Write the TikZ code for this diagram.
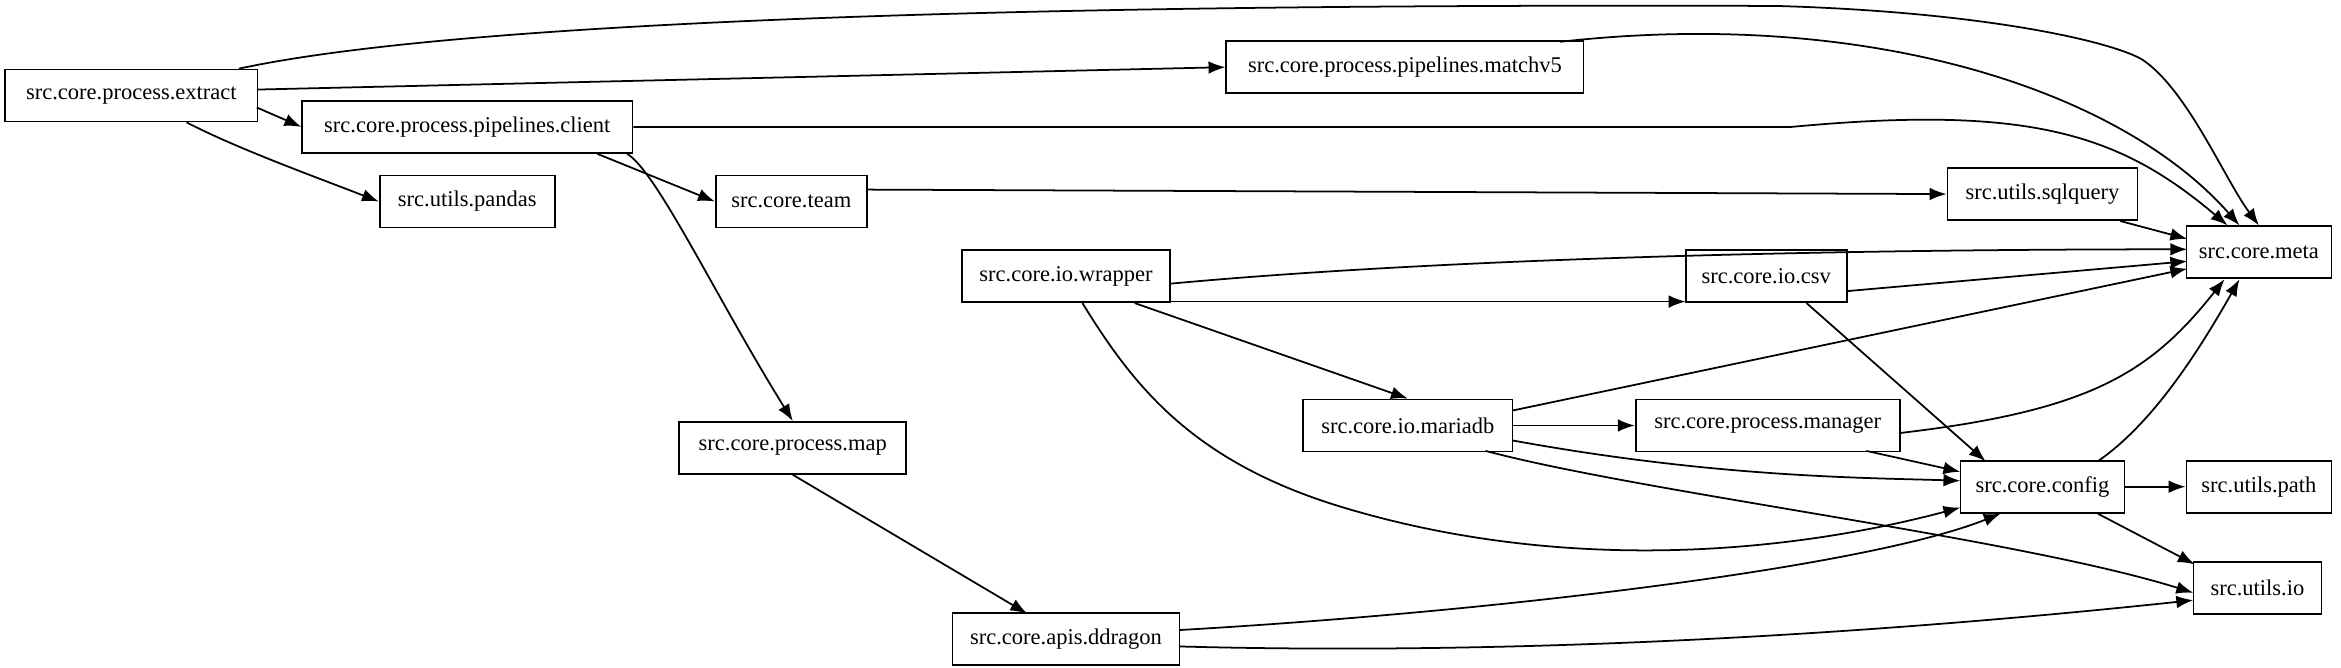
\documentclass[tikz,border=0pt]{standalone}
\usepackage{fontspec}
\setmainfont{Liberation Serif}
\usetikzlibrary{arrows.meta}
\begin{document}
\begin{tikzpicture}[x=0.01493cm,y=-0.01493cm,
  box/.style={draw,line width=0.5pt,minimum height=0.52cm,inner xsep=2pt,font=\fontsize{6.4}{8}\selectfont},
  e/.style={-{Latex[length=4.8pt,width=3.6pt]},line width=0.5pt}]
\useasboundingbox (0,0) rectangle (1568,447);
\node[box,minimum width=2.52cm] (extract) at (88,64) {src.core.process.extract};
\node[box,minimum width=3.57cm] (matchv5) at (941,45) {src.core.process.pipelines.matchv5};
\node[box,minimum width=3.30cm] (client) at (313,85) {src.core.process.pipelines.client};
\node[box,minimum width=1.75cm] (pandas) at (313,135) {src.utils.pandas};
\node[box,minimum width=1.51cm] (team) at (530,135) {src.core.team};
\node[box,minimum width=1.90cm] (sqlquery) at (1368,130) {src.utils.sqlquery};
\node[box,minimum width=1.45cm] (meta) at (1513,169) {src.core.meta};
\node[box,minimum width=2.08cm] (wrapper) at (714,185) {src.core.io.wrapper};
\node[box,minimum width=1.61cm] (csv) at (1183,185) {src.core.io.csv};
\node[box,minimum width=2.27cm] (map) at (531,300) {src.core.process.map};
\node[box,minimum width=2.09cm] (mariadb) at (943,285) {src.core.io.mariadb};
\node[box,minimum width=2.64cm] (manager) at (1184,285) {src.core.process.manager};
\node[box,minimum width=1.64cm] (config) at (1368,326) {src.core.config};
\node[box,minimum width=1.45cm] (path) at (1513,326) {src.utils.path};
\node[box,minimum width=1.28cm] (io) at (1512,394) {src.utils.io};
\node[box,minimum width=2.27cm] (ddragon) at (714,428) {src.core.apis.ddragon};
\draw[e] (160,46) .. controls (350,5) and (900,3) .. (1190,4) .. controls (1330,8) and (1415,28) .. (1435,40) .. controls (1465,60) and (1490,120) .. (meta.north);
\draw[e] (172,60) -- (matchv5.west);
\draw[e] (172,72) -- (client.west);
\draw[e] (125,82) .. controls (160,100) and (210,118) .. (pandas.west);
\draw[e] (1045,28) .. controls (1250,5) and (1420,60) .. (1500,151);
\draw[e] (client.east) -- (1200,85) .. controls (1360,70) and (1420,90) .. (1492,151);
\draw[e] (400,103) -- (team.west);
\draw[e] (420,103) .. controls (440,115) and (480,200) .. (map.north);
\draw[e] (581,127) -- (sqlquery.west);
\draw[e] (1420,148) -- (1465,160);
\draw[e] (784,190) .. controls (1000,170) and (1300,167) .. (1465,167);
\draw[e] (784,202) -- (1129,202);
\draw[e] (760,203) -- (mariadb.north);
\draw[e] (725,203) .. controls (760,260) and (800,310) .. (900,340) .. controls (1050,385) and (1200,370) .. (1313,340);
\draw[e] (1237,195) -- (1465,175);
\draw[e] (1210,203) -- (1330,309);
\draw[e] (531,318) -- (688,411);
\draw[e] (1013,275) -- (1465,180);
\draw[e] (mariadb.east) -- (manager.west);
\draw[e] (1013,295) .. controls (1150,320) and (1250,320) .. (1313,322);
\draw[e] (995,302) .. controls (1100,330) and (1350,360) .. (1469,397);
\draw[e] (1273,290) .. controls (1400,275) and (1440,250) .. (1490,187);
\draw[e] (1250,302) -- (1313,316);
\draw[e] (1405,309) .. controls (1440,285) and (1470,240) .. (1500,187);
\draw[e] (config.east) -- (path.west);
\draw[e] (1405,344) -- (1470,378);
\draw[e] (790,422) .. controls (1000,410) and (1250,380) .. (1340,344);
\draw[e] (790,433) .. controls (1050,440) and (1300,420) .. (1469,402);
\end{tikzpicture}
\end{document}
